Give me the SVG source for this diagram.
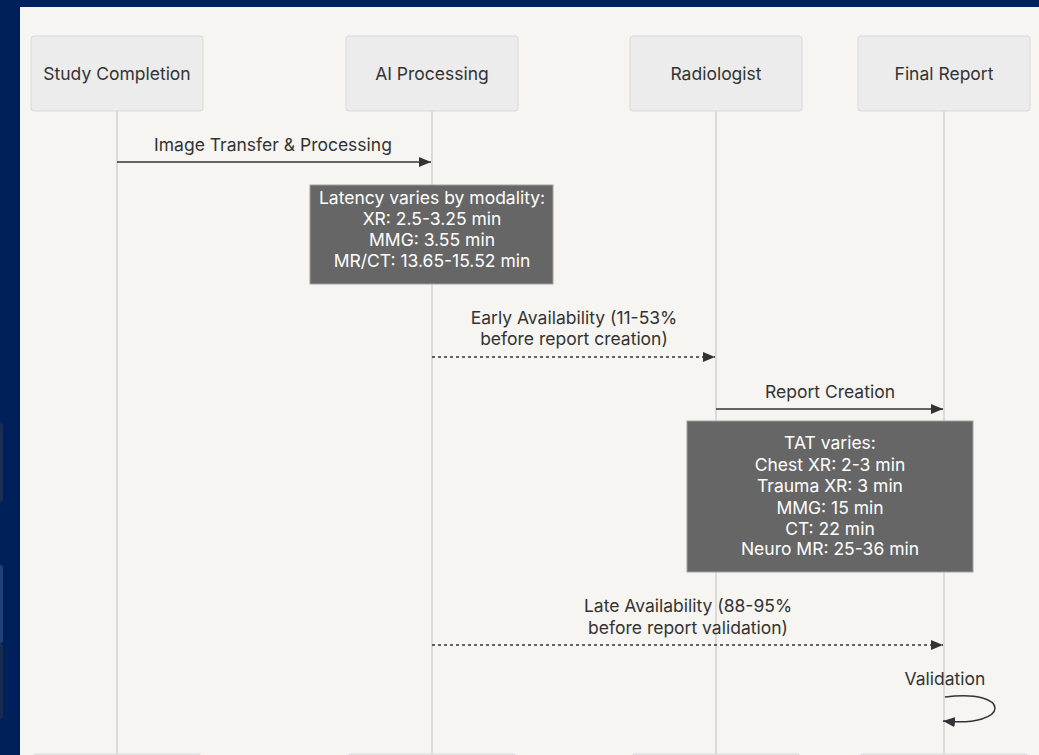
<svg xmlns="http://www.w3.org/2000/svg" width="1039" height="755" viewBox="0 0 1039 755">
<defs>
<style>
.actor rect{fill:#ececec;stroke:#d9d9d9;stroke-width:1}
.t{font-family:Inter,"Liberation Sans",Arial,sans-serif;font-size:17.5px;fill:#333;text-anchor:middle}
.nt{font-family:Inter,"Liberation Sans",Arial,sans-serif;font-size:17.5px;fill:#fff;text-anchor:middle}
.life{stroke:#d0d0d0;stroke-width:1.5}
.msg{stroke:#333;stroke-width:1.5;fill:none}
.dash{stroke-dasharray:3,3}
.note rect{fill:#666;stroke:#a0a0a0;stroke-width:1}
</style>
<marker id="ah" viewBox="0 0 12 10" refX="12" refY="5" markerWidth="12" markerHeight="10" markerUnits="userSpaceOnUse" orient="auto">
<path d="M0,0 L12,5 L0,10 z" fill="#333"/>
</marker>
</defs>
<rect x="0" y="0" width="1039" height="755" fill="#00205b"/>
<rect x="-4" y="423" width="7" height="79" rx="3" fill="#1a2d55"/>
<rect x="-4" y="565" width="7" height="78" rx="3" fill="#1e407c"/>
<rect x="-4" y="643" width="7" height="76" rx="3" fill="#172a50"/>
<rect x="20" y="7" width="1019" height="748" fill="#f6f5f2"/>

<g id="lifelines">
<line class="life" x1="117" y1="111" x2="117" y2="755"/>
<line class="life" x1="432" y1="111" x2="432" y2="755"/>
<line class="life" x1="716" y1="111" x2="716" y2="755"/>
<line class="life" x1="944" y1="111" x2="944" y2="755"/>
</g>

<g id="actor-study" class="actor">
<rect x="31" y="36" width="172" height="75" rx="3"/>
<text class="t" x="117" y="80">Study Completion</text>
</g>
<g id="actor-ai" class="actor">
<rect x="346" y="36" width="172" height="75" rx="3"/>
<text class="t" x="432" y="80">AI Processing</text>
</g>
<g id="actor-radiologist" class="actor">
<rect x="630" y="36" width="172" height="75" rx="3"/>
<text class="t" x="716" y="80">Radiologist</text>
</g>
<g id="actor-final" class="actor">
<rect x="858" y="36" width="172" height="75" rx="3"/>
<text class="t" x="944" y="80">Final Report</text>
</g>
<g id="actor-bottoms" class="actor">
<rect x="33" y="754" width="168" height="10" rx="3"/>
<rect x="348" y="754" width="168" height="10" rx="3"/>
<rect x="632" y="754" width="168" height="10" rx="3"/>
<rect x="860" y="754" width="168" height="10" rx="3"/>
</g>

<g id="connectors">
<line class="msg" x1="117" y1="162" x2="431" y2="162" marker-end="url(#ah)"/>
<line class="msg dash" x1="432" y1="357" x2="715" y2="357" marker-end="url(#ah)"/>
<line class="msg" x1="716" y1="409" x2="943" y2="409" marker-end="url(#ah)"/>
<line class="msg dash" x1="432" y1="645" x2="943" y2="645" marker-end="url(#ah)"/>
<path class="msg" d="M945,697 C1012,688 1012,728 943,721" marker-end="url(#ah)"/>
</g>

<g id="labels">
<text class="t" x="273" y="151">Image Transfer &amp; Processing</text>
<text class="t" x="574" y="324">Early Availability (11-53%</text>
<text class="t" x="574" y="345">before report creation)</text>
<text class="t" x="830" y="398">Report Creation</text>
<text class="t" x="688" y="612">Late Availability (88-95%</text>
<text class="t" x="688" y="634">before report validation)</text>
<text class="t" x="945" y="685">Validation</text>
</g>

<g id="note-latency" class="note">
<rect x="310" y="185" width="243" height="99"/>
<text class="nt" x="432" y="204">Latency varies by modality:</text>
<text class="nt" x="432" y="225">XR: 2.5-3.25 min</text>
<text class="nt" x="432" y="246">MMG: 3.55 min</text>
<text class="nt" x="432" y="267">MR/CT: 13.65-15.52 min</text>
</g>

<g id="note-tat" class="note">
<rect x="687" y="421" width="286" height="151"/>
<text class="nt" x="830" y="449">TAT varies:</text>
<text class="nt" x="830" y="471">Chest XR: 2-3 min</text>
<text class="nt" x="830" y="492">Trauma XR: 3 min</text>
<text class="nt" x="830" y="514">MMG: 15 min</text>
<text class="nt" x="830" y="535">CT: 22 min</text>
<text class="nt" x="830" y="555">Neuro MR: 25-36 min</text>
</g>
</svg>
